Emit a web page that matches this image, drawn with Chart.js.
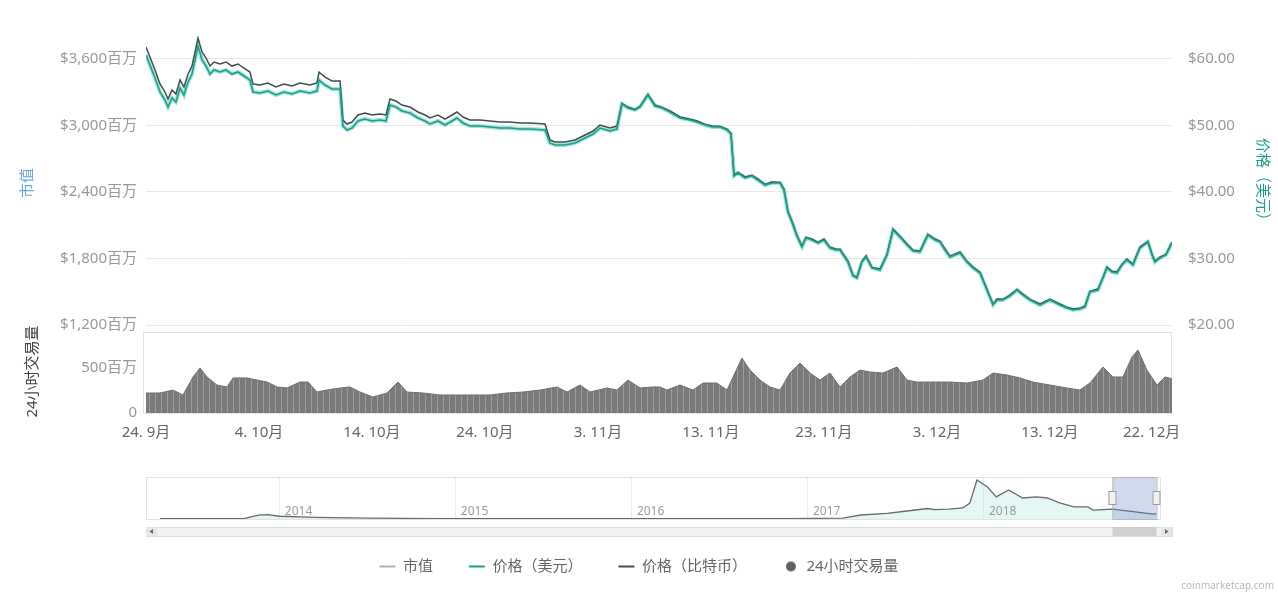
<!DOCTYPE html>
<html>
<head>
<meta charset="utf-8">
<script src="https://cdn.jsdelivr.net/npm/chart.js@4.4.1/dist/chart.umd.min.js"></script>
<style>
    html, body { margin: 0; padding: 0; background: #fff; }
    #wrap { position: relative; width: 1278px; height: 592px; overflow: hidden; }
    #mainChart { position: absolute; left: 0; top: 0; }
    #navChart { position: absolute; left: 0; top: 470px; }
    #credit { position: absolute; right: 4px; bottom: 0; font: 10px "Noto Sans", sans-serif; color: #b8b8b8; }
</style>
</head>
<body>
<div id="wrap">
    <canvas id="mainChart" width="1278" height="592"></canvas>
    <canvas id="navChart" width="1278" height="72"></canvas>
    <div id="credit">coinmarketcap.com</div>
</div>
<script>
const FONT = '"Noto Sans", "Noto Sans CJK SC", sans-serif';

// days counted from 24 Sep 2018
const days = [0.00, 0.35, 0.80, 1.24, 1.68, 1.95, 2.30, 2.65, 3.01, 3.36,
    3.72, 4.07, 4.34, 4.60, 4.96, 5.31, 5.66, 6.02, 6.55, 7.08,
    7.61, 8.14, 8.67, 9.20, 9.47, 10.09, 10.80, 11.50, 12.21, 12.92,
    13.63, 14.51, 15.13, 15.31, 15.84, 16.46, 17.17, 17.43, 17.79, 18.23,
    18.76, 19.38, 20.00, 20.71, 21.24, 21.59, 22.12, 22.65, 23.36, 24.07,
    24.69, 25.13, 25.84, 26.46, 27.08, 27.52, 28.05, 28.67, 29.56, 30.44,
    31.33, 32.21, 33.10, 33.98, 35.31, 35.75, 36.19, 37.08, 37.96, 38.85,
    39.56, 40.18, 41.06, 41.68, 42.12, 42.65, 43.27, 43.72, 44.42, 45.04,
    45.66, 46.37, 47.26, 48.14, 48.76, 49.47, 50.09, 50.80, 51.42, 51.77,
    52.04, 52.39, 53.01, 53.63, 54.16, 54.78, 55.40, 56.11, 56.46, 56.81,
    57.26, 57.61, 58.05, 58.41, 58.94, 59.47, 60.00, 60.53, 61.06, 61.42,
    62.12, 62.57, 62.92, 63.36, 63.72, 64.25, 64.96, 65.58, 66.11, 66.73,
    67.35, 67.88, 68.50, 69.20, 69.82, 70.27, 70.71, 71.15, 72.04, 72.65,
    73.19, 73.81, 74.42, 74.96, 75.31, 75.84, 76.46, 77.08, 77.61, 78.23,
    79.12, 80.00, 80.88, 81.50, 82.04, 82.65, 83.10, 83.54, 84.25, 84.69,
    85.04, 85.49, 85.93, 86.37, 86.81, 87.35, 87.96, 88.67, 89.03, 89.29,
    89.73, 90.27, 90.80];

const priceUsd = [60.60, 59.10, 57.14, 55.04, 53.83, 52.78, 54.14, 53.53, 55.64, 54.59,
    56.54, 57.74, 59.85, 61.95, 59.85, 58.95, 57.74, 58.35, 58.05, 58.35,
    57.74, 58.05, 57.44, 56.84, 55.04, 54.89, 55.19, 54.59, 55.04, 54.74,
    55.19, 54.89, 55.19, 56.84, 56.09, 55.49, 55.49, 49.92, 49.32, 49.62,
    50.68, 50.98, 50.68, 50.83, 50.68, 53.08, 52.78, 52.18, 51.88, 51.13,
    50.68, 50.23, 50.68, 50.07, 50.68, 51.13, 50.38, 49.92, 49.92, 49.77,
    49.62, 49.62, 49.47, 49.47, 49.32, 47.37, 47.07, 47.07, 47.37, 48.12,
    48.72, 49.62, 49.17, 49.47, 53.23, 52.63, 52.33, 52.78, 54.59, 52.93,
    52.63, 52.03, 51.13, 50.83, 50.53, 50.07, 49.77, 49.77, 49.32, 48.72,
    42.41, 42.86, 42.11, 42.41, 41.80, 41.05, 41.35, 41.35, 40.30, 36.99,
    35.04, 33.38, 31.73, 33.08, 32.78, 32.33, 32.78, 31.58, 31.28, 31.28,
    29.47, 27.37, 27.07, 29.47, 30.23, 28.57, 28.27, 30.53, 34.29, 33.23,
    32.03, 31.13, 30.98, 33.53, 32.78, 32.48, 31.28, 30.23, 30.83, 29.47,
    28.57, 27.82, 25.26, 23.01, 23.76, 23.76, 24.36, 25.26, 24.51, 23.76,
    23.01, 23.76, 23.01, 22.56, 22.25, 22.41, 22.71, 24.96, 25.26, 27.07,
    28.57, 27.97, 27.82, 29.02, 29.77, 29.02, 31.58, 32.48, 30.53, 29.47,
    30.07, 30.53, 32.33];

// market cap in millions of USD
const marketCap = [3636, 3546, 3428, 3302, 3230, 3167, 3248, 3212, 3338, 3275,
    3392, 3464, 3591, 3717, 3591, 3537, 3464, 3501, 3483, 3501,
    3464, 3483, 3446, 3410, 3302, 3293, 3311, 3275, 3302, 3284,
    3311, 3293, 3311, 3410, 3365, 3329, 3329, 2995, 2959, 2977,
    3041, 3059, 3041, 3050, 3041, 3185, 3167, 3131, 3113, 3068,
    3041, 3014, 3041, 3004, 3041, 3068, 3023, 2995, 2995, 2986,
    2977, 2977, 2968, 2968, 2959, 2842, 2824, 2824, 2842, 2887,
    2923, 2977, 2950, 2968, 3194, 3158, 3140, 3167, 3275, 3176,
    3158, 3122, 3068, 3050, 3032, 3004, 2986, 2986, 2959, 2923,
    2545, 2572, 2527, 2545, 2508, 2463, 2481, 2481, 2418, 2219,
    2102, 2003, 1904, 1985, 1967, 1940, 1967, 1895, 1877, 1877,
    1768, 1642, 1624, 1768, 1814, 1714, 1696, 1832, 2057, 1994,
    1922, 1868, 1859, 2012, 1967, 1949, 1877, 1814, 1850, 1768,
    1714, 1669, 1516, 1381, 1426, 1426, 1462, 1516, 1471, 1426,
    1381, 1426, 1381, 1354, 1335, 1345, 1363, 1498, 1516, 1624,
    1714, 1678, 1669, 1741, 1786, 1741, 1895, 1949, 1832, 1768,
    1804, 1832, 1940];

const priceBtc = [0.006180, 0.006030, 0.005834, 0.005624, 0.005503, 0.005398, 0.005534, 0.005473, 0.005684, 0.005579,
    0.005774, 0.005894, 0.006105, 0.006315, 0.006105, 0.006015, 0.005894, 0.005955, 0.005925, 0.005955,
    0.005894, 0.005925, 0.005864, 0.005804, 0.005624, 0.005609, 0.005639, 0.005579, 0.005624, 0.005594,
    0.005639, 0.005609, 0.005639, 0.005804, 0.005729, 0.005669, 0.005669, 0.005082, 0.005022, 0.005052,
    0.005158, 0.005188, 0.005158, 0.005173, 0.005158, 0.005398, 0.005368, 0.005308, 0.005278, 0.005203,
    0.005158, 0.005113, 0.005158, 0.005097, 0.005158, 0.005203, 0.005128, 0.005082, 0.005082, 0.005067,
    0.005052, 0.005052, 0.005037, 0.005037, 0.005022, 0.004782, 0.004752, 0.004752, 0.004782, 0.004857,
    0.004917, 0.005007, 0.004962, 0.004992, 0.005333, 0.005278, 0.005243, 0.005288, 0.005469, 0.005308,
    0.005273, 0.005218, 0.005128, 0.005093, 0.005068, 0.005017, 0.004992, 0.004987, 0.004947, 0.004882,
    0.004256, 0.004296, 0.004226, 0.004251, 0.004195, 0.004115, 0.004150, 0.004145, 0.004045, 0.003709,
    0.003519, 0.003348, 0.003188, 0.003318, 0.003293, 0.003243, 0.003293, 0.003168, 0.003143, 0.003138,
    0.002962, 0.002747, 0.002722, 0.002957, 0.003038, 0.002867, 0.002842, 0.003063, 0.003444, 0.003333,
    0.003218, 0.003123, 0.003113, 0.003363, 0.003293, 0.003258, 0.003143, 0.003033, 0.003098, 0.002957,
    0.002872, 0.002792, 0.002541, 0.002311, 0.002391, 0.002386, 0.002451, 0.002536, 0.002466, 0.002386,
    0.002316, 0.002386, 0.002316, 0.002266, 0.002240, 0.002251, 0.002286, 0.002506, 0.002541, 0.002717,
    0.002872, 0.002807, 0.002797, 0.002912, 0.002992, 0.002912, 0.003173, 0.003258, 0.003068, 0.002957,
    0.003022, 0.003063, 0.003248];

const volumeDays = [0.00, 1.24, 2.39, 3.27, 4.16, 4.78, 5.40, 6.28, 7.17, 7.70,
    8.94, 9.82, 10.71, 11.59, 12.48, 13.63, 14.34, 15.13, 16.02, 17.17,
    18.05, 18.94, 20.09, 21.33, 22.30, 23.10, 24.51, 26.02, 27.52, 28.94,
    30.44, 31.95, 33.36, 34.87, 36.37, 37.26, 38.41, 39.29, 40.80, 41.68,
    42.65, 43.72, 44.87, 45.49, 46.11, 47.26, 48.41, 49.29, 50.53, 51.42,
    52.12, 52.74, 53.45, 54.34, 55.22, 56.11, 56.99, 57.88, 58.76, 59.65,
    60.53, 61.42, 62.30, 63.19, 64.07, 65.22, 66.46, 67.35, 68.23, 69.65,
    71.15, 72.65, 74.07, 74.96, 76.19, 77.35, 78.50, 80.00, 81.50, 82.65,
    83.54, 84.69, 85.58, 86.46, 87.26, 87.79, 88.58, 89.47, 90.18, 90.80];

// 24h volume in millions of USD
const volume = [222, 222, 255, 200, 400, 500, 400, 311, 289, 389,
    389, 366, 344, 289, 278, 344, 344, 233, 255, 278,
    289, 233, 178, 222, 344, 233, 222, 200, 200, 200,
    200, 222, 233, 255, 289, 233, 311, 233, 278, 255,
    366, 278, 289, 289, 255, 311, 255, 333, 333, 255,
    444, 611, 477, 366, 289, 255, 444, 555, 444, 366,
    444, 289, 400, 477, 455, 444, 511, 366, 344, 344,
    344, 333, 366, 444, 422, 389, 344, 311, 278, 255,
    333, 511, 400, 400, 622, 700, 477, 311, 400, 380];

const xTickDays = [0, 10, 20, 30, 40, 50, 60, 70, 80, 89];
const xTickLabels = ['24. 9月', '4. 10月', '14. 10月', '24. 10月', '3. 11月', '13. 11月', '23. 11月', '3. 12月', '13. 12月', '22. 12月'];
const capTicks = [1200, 1800, 2400, 3000, 3600];
const priceTicks = [20, 30, 40, 50, 60];
const volumeTicks = [0, 500];

const navYears = [2013.32, 2013.55, 2013.80, 2013.88, 2013.93, 2014.00, 2014.20, 2014.50, 2014.90, 2015.50,
    2015.90, 2016.50, 2016.90, 2017.20, 2017.30, 2017.45, 2017.55, 2017.68, 2017.72, 2017.80,
    2017.88, 2017.92, 2017.96, 2018.02, 2018.07, 2018.14, 2018.22, 2018.30, 2018.36, 2018.43,
    2018.51, 2018.59, 2018.62, 2018.73, 2018.87, 2018.96, 2018.98];
const navPrice = [3, 3, 5, 35, 40, 25, 15, 8, 4, 3,
    3.5, 4, 4, 8, 36, 50, 70, 95, 85, 90,
    100, 145, 353, 290, 200, 262, 190, 200, 190, 145,
    109, 109, 81, 90, 63, 45, 48];
const yearTicks = [2014, 2015, 2016, 2017, 2018];
const navWindow = [2018.73, 2018.98];

function toPoints(xs, ys) {
    return xs.map(function (x, i) { return { x: x, y: ys[i] }; });
}

function fixedTicks(values) {
    return function (scale) {
        scale.ticks = values.map(function (v) { return { value: v }; });
    };
}

function columnPattern(ctx) {
    let tile = document.createElement('canvas');
    tile.width = 6;
    tile.height = 4;
    let t = tile.getContext('2d');
    t.fillStyle = '#7a7a7a';
    t.fillRect(0, 0, 6, 4);
    t.fillStyle = '#9c9c9c';
    t.fillRect(5, 0, 1, 4);
    return ctx.createPattern(tile, 'repeat');
}

function legendDot() {
    let dot = document.createElement('canvas');
    dot.width = 12;
    dot.height = 12;
    let d = dot.getContext('2d');
    d.fillStyle = '#5f5f5f';
    d.beginPath();
    d.arc(6, 6, 5, 0, Math.PI * 2);
    d.fill();
    return dot;
}

const volumeFrame = {
    id: 'volumeFrame',
    beforeDatasetsDraw: function (chart) {
        const s = chart.scales.yVol;
        const area = chart.chartArea;
        const ctx = chart.ctx;
        ctx.save();
        ctx.strokeStyle = '#e3e3e3';
        ctx.lineWidth = 1;
        ctx.strokeRect(area.left - 2.5, s.top + 2.5, area.right - area.left + 2, s.bottom - s.top - 2);
        ctx.restore();
    }
};

const navigatorDecor = {
    id: 'navigatorDecor',
    afterDraw: function (chart) {
        const ctx = chart.ctx;
        const area = chart.chartArea;
        const xs = chart.scales.x;
        const x0 = xs.getPixelForValue(navWindow[0]);
        const x1 = xs.getPixelForValue(navWindow[1]);
        const mid = (area.top + area.bottom) / 2;
        ctx.save();

        ctx.strokeStyle = '#e2e2e2';
        ctx.strokeRect(area.left + 0.5, area.top + 0.5, area.right - area.left, area.bottom - area.top);

        ctx.fillStyle = '#9a9a9a';
        ctx.font = '12px ' + FONT;
        ctx.textBaseline = 'middle';
        yearTicks.forEach(function (year) {
            ctx.fillText(String(year), xs.getPixelForValue(year) + 5, area.bottom - 7);
        });

        ctx.fillStyle = 'rgba(102, 133, 194, 0.3)';
        ctx.fillRect(x0, area.top, x1 - x0, area.bottom - area.top);
        ctx.strokeStyle = '#b8b8b8';
        ctx.strokeRect(x0 + 0.5, area.top + 0.5, x1 - x0, area.bottom - area.top);
        [x0, x1].forEach(function (x) {
            ctx.fillStyle = '#f2f2f2';
            ctx.strokeStyle = '#999';
            ctx.fillRect(x - 4, mid - 7, 8, 14);
            ctx.strokeRect(x - 3.5, mid - 6.5, 7, 13);
        });

        const sy = area.bottom + 8;
        const right = area.right + 12;
        ctx.fillStyle = '#f2f2f2';
        ctx.fillRect(area.left, sy, right - area.left, 9);
        ctx.strokeStyle = '#dddddd';
        ctx.strokeRect(area.left + 0.5, sy + 0.5, right - area.left, 9);
        ctx.fillStyle = '#cfcfcf';
        ctx.fillRect(x0, sy, x1 - x0, 9);
        ctx.fillStyle = '#e6e6e6';
        ctx.fillRect(area.left, sy, 11, 9);
        ctx.fillRect(right - 11, sy, 11, 9);
        ctx.fillStyle = '#666';
        ctx.beginPath();
        ctx.moveTo(area.left + 3.5, sy + 4.5);
        ctx.lineTo(area.left + 7, sy + 2);
        ctx.lineTo(area.left + 7, sy + 7);
        ctx.fill();
        ctx.beginPath();
        ctx.moveTo(right - 3.5, sy + 4.5);
        ctx.lineTo(right - 7, sy + 2);
        ctx.lineTo(right - 7, sy + 7);
        ctx.fill();
        ctx.restore();
    }
};

function generateChart() {
    const ctx = document.getElementById('mainChart').getContext('2d');
    const tickFont = { size: 15, family: FONT };
    const titleFont = { size: 15, family: FONT };
    const dot = legendDot();
    new Chart(ctx, {
        type: 'line',
        data: {
            datasets: [
                { label: '市值', data: toPoints(days, marketCap), yAxisID: 'yCap', borderColor: 'rgba(120, 218, 206, 0.7)', borderWidth: 4, pointStyle: 'line', order: 3 },
                { label: '价格（美元）', data: toPoints(days, priceUsd), yAxisID: 'yPrice', borderColor: '#1f9f88', borderWidth: 1.6, pointStyle: 'line', order: 1 },
                { label: '价格（比特币）', data: toPoints(days, priceBtc), yAxisID: 'yBtc', borderColor: '#3f4f4c', borderWidth: 1.5, pointStyle: 'line', order: 2 },
                { label: '24小时交易量', data: toPoints(volumeDays, volume), yAxisID: 'yVol', borderColor: '#6f6f6f', borderWidth: 1, backgroundColor: columnPattern(ctx), fill: 'origin', pointStyle: 'circle', order: 4 }
            ]
        },
        options: {
            animation: false,
            responsive: false,
            elements: { point: { radius: 0 }, line: { tension: 0 } },
            layout: { padding: { top: 36, left: 0, right: 0, bottom: 8 } },
            plugins: {
                tooltip: { enabled: false },
                legend: {
                    position: 'bottom',
                    labels: {
                        usePointStyle: true,
                        pointStyleWidth: 16,
                        boxHeight: 8,
                        padding: 36,
                        color: '#666',
                        font: { size: 15, family: FONT },
                        sort: function (a, b) { return a.datasetIndex - b.datasetIndex; },
                        generateLabels: function (chart) {
                            let items = Chart.defaults.plugins.legend.labels.generateLabels(chart);
                            items.forEach(function (item) {
                                item.lineWidth = 2;
                                if (item.datasetIndex === 0) {
                                    item.strokeStyle = '#9fb6b3';
                                }
                                if (item.pointStyle === 'circle') {
                                    item.pointStyle = dot;
                                }
                            });
                            return items;
                        }
                    }
                }
            },
            scales: {
                x: {
                    type: 'linear', min: 0, max: 90.8,
                    afterBuildTicks: fixedTicks(xTickDays),
                    afterFit: function (scale) { scale.height = 110; },
                    grid: { display: false, drawTicks: false },
                    border: { display: false },
                    ticks: {
                        autoSkip: false, maxRotation: 0, padding: 11, color: '#666', font: tickFont,
                        callback: function (v) { return xTickLabels[xTickDays.indexOf(v)]; }
                    }
                },
                yVol: {
                    position: 'left', stack: 'main', stackWeight: 83, min: 0, max: 922,
                    afterBuildTicks: fixedTicks(volumeTicks),
                    afterFit: function (scale) { scale.width = 146; },
                    grid: { display: false, drawTicks: false },
                    border: { display: false },
                    ticks: {
                        padding: 9, color: '#999', font: tickFont,
                        callback: function (v) { return v === 0 ? '0' : v + '百万'; }
                    },
                    title: { display: true, text: '24小时交易量', color: '#444', font: titleFont, padding: { top: 24, bottom: 0 } }
                },
                yCap: {
                    position: 'left', stack: 'main', stackWeight: 294, min: 1155, max: 3807,
                    afterBuildTicks: fixedTicks(capTicks),
                    afterFit: function (scale) { scale.width = 146; },
                    grid: { color: '#e8e8e8', drawTicks: false },
                    border: { display: false },
                    ticks: {
                        padding: 9, color: '#999', font: tickFont,
                        callback: function (v) { return '$' + v.toLocaleString('en-US') + '百万'; }
                    },
                    title: { display: true, text: '市值', color: '#6aa6dd', font: titleFont, padding: { top: 19, bottom: 0 } }
                },
                yPrice: {
                    position: 'right', stack: 'main', stackWeight: 294, min: 19.25, max: 63.46,
                    afterBuildTicks: fixedTicks(priceTicks),
                    afterFit: function (scale) { scale.width = 106; },
                    grid: { display: false, drawTicks: false },
                    border: { display: false },
                    ticks: {
                        padding: 16, color: '#999', font: tickFont,
                        callback: function (v) { return '$' + v.toFixed(2); }
                    },
                    title: { display: true, text: '价格（美元）', color: '#1f9f88', font: titleFont, padding: { top: 7, bottom: 0 } }
                },
                yVolRight: {
                    position: 'right', stack: 'main', stackWeight: 83, min: 0, max: 1,
                    afterFit: function (scale) { scale.width = 106; },
                    grid: { display: false, drawTicks: false },
                    border: { display: false },
                    ticks: { display: false }
                },
                yBtc: { display: false, min: 0.000677, max: 0.006346 }
            }
        },
        plugins: [volumeFrame]
    });
}

function generateNavigator() {
    const ctx = document.getElementById('navChart').getContext('2d');
    new Chart(ctx, {
        type: 'line',
        data: {
            datasets: [{
                data: toPoints(navYears, navPrice),
                borderColor: '#6a6a6a', borderWidth: 1.3,
                backgroundColor: 'rgba(190, 235, 230, 0.4)', fill: 'origin',
                pointRadius: 0, tension: 0
            }]
        },
        options: {
            animation: false,
            responsive: false,
            layout: { padding: { left: 146, right: 118, top: 7, bottom: 23 } },
            plugins: { legend: { display: false }, tooltip: { enabled: false } },
            scales: {
                x: {
                    type: 'linear', min: 2013.24, max: 2019.0,
                    afterBuildTicks: fixedTicks(yearTicks),
                    ticks: { display: false },
                    grid: { color: '#ececec', drawTicks: false },
                    border: { display: false }
                },
                y: { display: false, min: 0, max: 380 }
            }
        },
        plugins: [navigatorDecor]
    });
}

generateChart();
generateNavigator();
</script>
</body>
</html>
